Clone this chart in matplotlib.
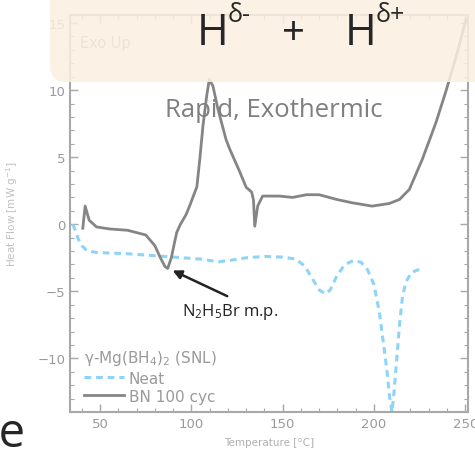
import matplotlib
matplotlib.use("Agg")
import matplotlib.pyplot as plt
from matplotlib.patches import FancyBboxPatch
from matplotlib.ticker import MultipleLocator

# BN 100 cyc (solid grey)
bn_T = [40.5, 41.8, 44, 48, 55, 65, 75, 80, 83, 85.5, 87, 89, 91, 92, 94, 97, 99,
        103, 104.6, 106.3, 108.4, 109.8, 111.8, 114.5, 119, 121, 126.5, 130, 133,
        134, 134.7, 136.3, 139, 148, 155.5, 163, 170, 179.5, 188, 199, 208.5, 214,
        219.4, 226.5, 234, 239.6, 245, 250.5]
bn_HF = [-0.3, 1.35, 0.3, -0.2, -0.35, -0.45, -0.8, -1.6, -2.5, -3.15, -3.3, -2.5,
         -1.2, -0.6, 0.0, 0.7, 1.35, 2.8, 4.85, 7.3, 9.6, 10.8, 10.3, 8.6, 6.3, 5.6,
         3.9, 2.75, 2.4, 1.8, -0.15, 1.35, 2.1, 2.1, 2.0, 2.2, 2.2, 1.85, 1.6, 1.35,
         1.55, 1.85, 2.6, 4.85, 7.6, 10.0, 12.5, 15.3]

# Neat (dashed blue)
neat_T = [35, 36.5, 38, 40, 43, 48, 55, 65, 75, 85, 95, 105, 115, 121, 130, 140, 150,
          157, 162, 166, 170, 173.5, 176, 179.5, 184, 189, 193, 196.5, 200, 203, 205,
          207, 208.5, 209.8, 211, 212.5, 214, 215.6, 217.5, 220.5, 224, 227]
neat_HF = [0, -0.5, -1.1, -1.6, -2.0, -2.1, -2.15, -2.2, -2.3, -2.4, -2.5, -2.6, -2.8,
           -2.7, -2.5, -2.4, -2.45, -2.6, -3.1, -4.0, -4.9, -5.2, -4.9, -3.9, -3.0,
           -2.7, -2.85, -3.4, -4.5, -6.6, -8.7, -10.8, -12.8, -14.0, -12.5, -10.0,
           -7.5, -5.4, -4.3, -3.6, -3.4, -3.5]

x_ticks = [50, 100, 150, 200, 250]
y_ticks = [-10, -5, 0, 5, 10, 15]

AX_GREY = "#a8a8a8"
TXT_GREY = "#9a9a9a"
SLIDE_FONT = ["Open Sans", "DejaVu Sans"]

fig = plt.figure(figsize=(4.75, 4.56), dpi=100)
ax = fig.add_axes([70 / 475, 1 - 413 / 456, 398 / 475, 397 / 456])

ax.plot(neat_T, neat_HF, color="#8ed4f8", lw=2.2, dashes=(2.2, 1.6), label="Neat")
ax.plot(bn_T, bn_HF, color="#858585", lw=2.0, label="BN 100 cyc")

ax.set_xlim(33.5, 251.5)
ax.set_ylim(-14, 15.6)
ax.set_xticks(x_ticks)
ax.set_yticks(y_ticks)
ax.xaxis.set_minor_locator(MultipleLocator(10))
ax.yaxis.set_minor_locator(MultipleLocator(1))
ax.tick_params(which="both", direction="in", top=True, right=True,
               colors=AX_GREY, labelcolor=TXT_GREY, labelsize=9.5)
ax.tick_params(which="major", length=6, width=1)
ax.tick_params(which="minor", length=3, width=0.8)
for s in ax.spines.values():
    s.set_color(AX_GREY)
    s.set_linewidth(1.5)

ax.set_xlabel("Temperature [°C]", color="#b0b0b0", fontsize=7.5, labelpad=5)
ax.set_ylabel("Heat Flow [mW g$^{-1}$]", color="#c0c0c0", fontsize=7.5, labelpad=12)

ax.text(39, 13.2, "Exo Up", color=TXT_GREY, fontsize=10.5)

leg = ax.legend(title="γ-Mg(BH$_4$)$_2$ (SNL)", loc="lower left", frameon=False,
                bbox_to_anchor=(0.015, 0.0),
                fontsize=11, title_fontsize=11, handlelength=2.6, handletextpad=0.3,
                borderaxespad=0.25, labelspacing=0.2, borderpad=0.3)
leg._legend_box.align = "left"
leg.get_title().set_color(TXT_GREY)
for t in leg.get_texts():
    t.set_color(TXT_GREY)

ax.annotate("", xy=(88.3, -3.36), xytext=(121, -5.45),
            arrowprops=dict(arrowstyle="-|>", color="#222222", lw=1.8, mutation_scale=13))
ax.text(94.8, -6.5, r"$\mathregular{N_2H_5}$Br m.p.", color="#222222", fontsize=12,
        va="center", family=SLIDE_FONT)

# slide overlay
box = FancyBboxPatch((0.5, (456 - 83) / 100), 5.0, 1.2,
                     boxstyle="round,pad=0,rounding_size=0.16",
                     transform=fig.dpi_scale_trans, facecolor="#fcefe1",
                     edgecolor="none", alpha=0.86, zorder=5)
fig.add_artist(box)

slide = dict(color="#262626", family=SLIDE_FONT, zorder=6)
fig.text(197 / 475, 1 - 45 / 456, "H", fontsize=31, **slide)
fig.text(228 / 475, 1 - 22 / 456, "δ-", fontsize=18, **slide)
fig.text(294 / 475, 1 - 45 / 456, "+", fontsize=29, ha="center", **slide)
fig.text(345 / 475, 1 - 45 / 456, "H", fontsize=31, **slide)
fig.text(376 / 475, 1 - 22 / 456, "δ+", fontsize=18, **slide)

fig.text(165 / 475, 1 - 117 / 456, "Rapid, Exothermic", fontsize=18.5, color="#7f7f7f",
         family=SLIDE_FONT, zorder=6)
fig.text(26 / 475, 1 - 447 / 456, "se", fontsize=34, color="#262626", ha="right",
         family=SLIDE_FONT, zorder=6)

fig.savefig("out.png", dpi=100)
